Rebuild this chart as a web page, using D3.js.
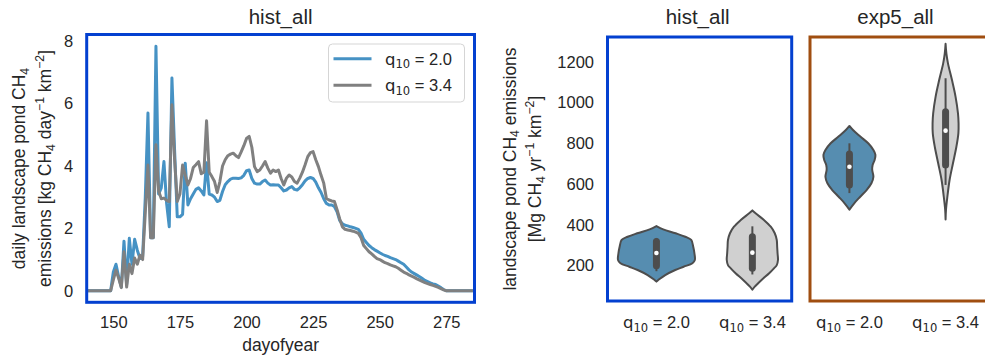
<!DOCTYPE html>
<html>
<head>
  <style>
    body {
      margin: 0;
      background: white;
    }
    text {
      font-family: "Liberation Sans", Arial, sans-serif;
      fill: #262626;
    }
    .math {
      font-family: "DejaVu Sans", sans-serif;
    }
  </style>
</head>
<body>
  <div id="chart"></div>
  <script src="https://d3js.org/d3.v7.min.js"></script>
  <script>
    var width = 985, height = 359;

    // daily series, day 140 .. 285
    var startDay = 140;
    var q20 = [0,0,0,0,0,0,0,0,0,0,
      0.6,0.85,0.45,0.12,1.59,0.2,1.68,0.85,1.65,1.3,
      1.03,1.1,3.0,5.7,1.7,1.7,7.84,3.1,3.3,4.14,
      2.8,2.05,6.82,4.5,2.37,2.37,2.45,4.09,2.75,2.95,
      3.1,3.25,3.3,3.2,3.07,4.1,3.1,3.07,3.0,2.86,
      2.9,3.18,3.4,3.5,3.58,3.61,3.61,3.6,3.62,3.7,
      3.85,3.87,3.6,3.45,3.42,3.42,3.5,3.55,3.45,3.39,
      3.4,3.39,3.39,3.3,3.2,3.23,3.3,3.34,3.25,3.23,
      3.3,3.4,3.52,3.6,3.63,3.6,3.48,3.3,3.15,2.95,
      2.8,2.75,2.75,2.7,2.53,2.25,2.15,2.1,2.08,2.05,
      2.03,2.0,1.97,1.85,1.65,1.55,1.45,1.38,1.32,1.27,
      1.22,1.17,1.13,1.1,1.06,1.03,1.0,0.95,0.9,0.85,
      0.76,0.67,0.6,0.55,0.5,0.45,0.39,0.33,0.29,0.25,
      0.22,0.2,0.15,0.1,0.04,0,0,0,0,0,
      0,0,0,0,0,0];
    var q34 = [0,0,0,0,0,0,0,0,0,0,
      0.35,0.66,0.4,0.1,1.25,0.12,0.85,0.55,1.05,0.85,
      1.14,1.0,2.5,4.03,1.7,1.7,4.68,3.2,2.95,2.97,
      2.9,2.86,5.96,4.2,2.86,3.1,4.03,3.7,3.39,3.6,
      3.95,4.04,4.14,3.75,3.8,5.45,3.8,3.66,3.5,3.15,
      3.5,4.0,4.2,4.33,4.38,4.41,4.33,4.27,4.45,4.65,
      4.88,4.95,4.6,3.98,3.82,3.87,4.0,4.14,3.93,3.77,
      3.87,3.82,3.87,3.6,3.39,3.61,3.71,3.65,3.5,3.45,
      3.61,3.8,4.04,4.3,4.43,4.46,4.2,3.98,3.7,3.45,
      2.96,2.91,2.88,2.86,2.6,2.3,2.05,1.97,1.95,1.93,
      1.91,1.88,1.84,1.7,1.45,1.35,1.25,1.18,1.1,1.03,
      1.0,0.95,0.9,0.87,0.83,0.8,0.77,0.72,0.66,0.6,
      0.56,0.51,0.47,0.43,0.38,0.34,0.3,0.26,0.23,0.2,
      0.17,0.14,0.11,0.07,0.03,0,0,0,0,0,
      0,0,0,0,0,0];

    var seriesNames = ["2.0", "3.4"];
    var dayTicks = [150, 175, 200, 225, 250, 275];
    var dailyTicks = [0, 2, 4, 6, 8];
    var annualTicks = [200, 400, 600, 800, 1000, 1200];
    var panels = ["hist_all", "exp5_all"];

    // violin outlines: [value, relative half width]
    var violinHist20 = [[122,0],[132,0.06],[154,0.22],[179,0.47],[195,0.68],[212,0.9],[228,0.96],[261,0.95],[293,0.92],[326,0.87],[342,0.72],[359,0.48],[378,0.17],[394,0]];
    var violinHist34 = [[82,0],[97,0.06],[130,0.23],[163,0.42],[187,0.54],[203,0.61],[228,0.64],[261,0.63],[293,0.62],[326,0.61],[359,0.56],[391,0.46],[424,0.29],[457,0.08],[471,0]];
    var violinExp20 = [[475,0],[506,0.12],[538,0.27],[571,0.43],[604,0.55],[636,0.6],[669,0.57],[694,0.58],[718,0.63],[743,0.65],[767,0.6],[800,0.47],[832,0.28],[865,0.09],[885,0]];
    var violinExp34 = [[426,0],[473,0.01],[538,0.045],[620,0.1],[702,0.185],[783,0.27],[849,0.32],[898,0.325],[947,0.31],[1028,0.25],[1110,0.16],[1192,0.06],[1241,0.02],[1288,0]];

    // box stats: [whisker low, q1, median, q3, whisker high]
    var boxHist20 = [173, 200, 262, 318, 336];
    var boxHist34 = [157, 187, 264, 342, 393];
    var boxExp20 = [556, 596, 685, 747, 800];
    var boxExp34 = [596, 694, 862, 955, 1119];

    var lineColors = ["#4692c4", "#808080"];
    var violinFills = ["#568db0", "#d0d0d0"];
    var frameColors = ["#0340d0", "#a04e10"];
    var dark = "#4d4d4d";

    var svg = d3.select("#chart").append("svg")
        .attr("width", width).attr("height", height);

    // parts: [text, "sub"|"sup"|undefined, "math"?]
    function rich(sel, parts) {
      var off = 0;
      parts.forEach(p => {
        var shift = p[1] == "sub" ? 3.5 : (p[1] == "sup" ? -7 : 0);
        sel.append("tspan")
          .attr("dy", shift - off)
          .attr("class", p[2] ? "math" : null)
          .style("font-size", shift ? "70%" : null)
          .text(p[0]);
        off = shift;
      });
    }
    function q10Label(v) {
      return [["q", null, 1], ["10", "sub", 1], [" = " + v]];
    }

    // ---------- left panel ----------
    var x = d3.scaleLinear().domain([140, 285.6]).range([86.7, 474.5]);
    var y = d3.scaleLinear().domain([-0.37, 8.215]).range([302.3, 34.5]);

    var line = d3.line()
        .x((d, i) => x(startDay + i))
        .y(d => y(d));

    [q20, q34].forEach((s, k) => {
      svg.append("path")
        .attr("d", line(s))
        .attr("fill", "none")
        .attr("stroke", lineColors[k])
        .attr("stroke-width", 3)
        .attr("stroke-linejoin", "round");
    });

    var gx = svg.append("g")
        .attr("transform", "translate(0," + y.range()[0] + ")")
        .call(d3.axisBottom(x).tickValues(dayTicks).tickSize(0).tickPadding(14));
    gx.select(".domain").remove();
    gx.selectAll("text").style("font-size", "16.5px").attr("fill", "#262626");

    var gy = svg.append("g")
        .attr("transform", "translate(" + x.range()[0] + ",0)")
        .call(d3.axisLeft(y).tickValues(dailyTicks).tickSize(0).tickPadding(13.5));
    gy.select(".domain").remove();
    gy.selectAll("text").style("font-size", "16.5px").attr("fill", "#262626");

    svg.append("rect")
      .attr("x", x.range()[0]).attr("y", y.range()[1])
      .attr("width", x.range()[1] - x.range()[0])
      .attr("height", y.range()[0] - y.range()[1])
      .attr("fill", "none")
      .attr("stroke", frameColors[0])
      .attr("stroke-width", 3);

    svg.append("text")
      .attr("x", (x.range()[0] + x.range()[1]) / 2).attr("y", 24)
      .attr("text-anchor", "middle")
      .style("font-size", "20.5px")
      .text("hist_all");

    svg.append("text")
      .attr("x", (x.range()[0] + x.range()[1]) / 2).attr("y", 351)
      .attr("text-anchor", "middle")
      .style("font-size", "17.5px")
      .text("dayofyear");

    var yl1 = svg.append("text")
      .attr("transform", "translate(25,168.5) rotate(-90)")
      .attr("text-anchor", "middle").style("font-size", "17.5px");
    rich(yl1, [["daily landscape pond CH"], ["4", "sub"]]);
    var yl2 = svg.append("text")
      .attr("transform", "translate(51.3,168.5) rotate(-90)")
      .attr("text-anchor", "middle").style("font-size", "17.5px");
    rich(yl2, [["emissions [kg CH"], ["4", "sub"], [" day"], ["\u22121", "sup"], [" km"], ["\u22122", "sup"], ["]"]]);

    // legend
    var lg = svg.append("g");
    lg.append("rect")
      .attr("x", 328.5).attr("y", 44).attr("width", 136).attr("height", 58)
      .attr("rx", 4)
      .attr("fill", "white").attr("fill-opacity", 0.8)
      .attr("stroke", "#d5d5d5").attr("stroke-width", 1);
    seriesNames.forEach((n, k) => {
      var ly = 58.7 + k * 26.6;
      lg.append("line")
        .attr("x1", 333.5).attr("x2", 371.5)
        .attr("y1", ly).attr("y2", ly)
        .attr("stroke", lineColors[k]).attr("stroke-width", 3);
      var t = lg.append("text")
        .attr("x", 385).attr("y", ly + 6)
        .style("font-size", "16.5px");
      rich(t, q10Label(n));
    });

    // ---------- violin panels ----------
    var yv = d3.scaleLinear().domain([22, 1331]).range([302, 35]);
    var wv = d3.scaleLinear().domain([0, 1]).range([0, 40]);

    var violinSets = [[violinHist20, violinHist34], [violinExp20, violinExp34]];
    var boxSets = [[boxHist20, boxHist34], [boxExp20, boxExp34]];
    var panelX = [
      d3.scaleLinear().domain([-0.51, 1.41]).range([607.5, 791.7]),
      d3.scaleLinear().domain([-0.41, 1.41]).range([810, 985])
    ];
    var frameBottom = 301, frameTop = 37;

    panels.forEach((name, p) => {
      var xs = panelX[p];
      var g = svg.append("g");

      violinSets[p].forEach((prof, i) => {
        var cx = xs(i);
        var area = d3.area()
            .y(d => yv(d[0]))
            .x0(d => cx - wv(d[1]))
            .x1(d => cx + wv(d[1]))
            .curve(d3.curveCatmullRom);
        g.append("path")
          .attr("d", area(prof))
          .attr("fill", violinFills[i])
          .attr("stroke", dark)
          .attr("stroke-width", 2)
          .attr("stroke-linejoin", "round");

        var b = boxSets[p][i];
        g.append("line")
          .attr("x1", cx).attr("x2", cx)
          .attr("y1", yv(b[0])).attr("y2", yv(b[4]))
          .attr("stroke", dark).attr("stroke-width", 2);
        g.append("line")
          .attr("x1", cx).attr("x2", cx)
          .attr("y1", yv(b[1])).attr("y2", yv(b[3]))
          .attr("stroke", dark).attr("stroke-width", 7)
          .attr("stroke-linecap", "round");
        g.append("circle")
          .attr("cx", cx).attr("cy", yv(b[2]))
          .attr("r", 2.3)
          .attr("fill", "white");

        // category label
        var t = svg.append("text")
          .attr("x", cx).attr("y", 328)
          .attr("text-anchor", "middle")
          .style("font-size", "16.5px");
        rich(t, q10Label(seriesNames[i]));
      });

      svg.append("rect")
        .attr("x", xs.range()[0]).attr("y", frameTop)
        .attr("width", xs.range()[1] - xs.range()[0] + (p == 1 ? 10 : 0))
        .attr("height", frameBottom - frameTop)
        .attr("fill", "none")
        .attr("stroke", frameColors[p])
        .attr("stroke-width", 3);

      svg.append("text")
        .attr("x", (xs.range()[0] + xs.range()[1]) / 2 - 2).attr("y", 24)
        .attr("text-anchor", "middle")
        .style("font-size", "20.5px")
        .text(name);
    });

    var gyv = svg.append("g")
        .attr("transform", "translate(607.5,0)")
        .call(d3.axisLeft(yv).tickValues(annualTicks).tickSize(0).tickPadding(13.5).tickFormat(d3.format("d")));
    gyv.select(".domain").remove();
    gyv.selectAll("text").style("font-size", "16.5px").attr("fill", "#262626");

    var yr1 = svg.append("text")
      .attr("transform", "translate(515.5,169) rotate(-90)")
      .attr("text-anchor", "middle").style("font-size", "17.5px");
    rich(yr1, [["landscape pond CH"], ["4", "sub"], [" emissions"]]);
    var yr2 = svg.append("text")
      .attr("transform", "translate(541,169) rotate(-90)")
      .attr("text-anchor", "middle").style("font-size", "17.5px");
    rich(yr2, [["[Mg CH"], ["4", "sub"], [" yr"], ["\u22121", "sup"], [" km"], ["\u22122", "sup"], ["]"]]);
  </script>
</body>
</html>
